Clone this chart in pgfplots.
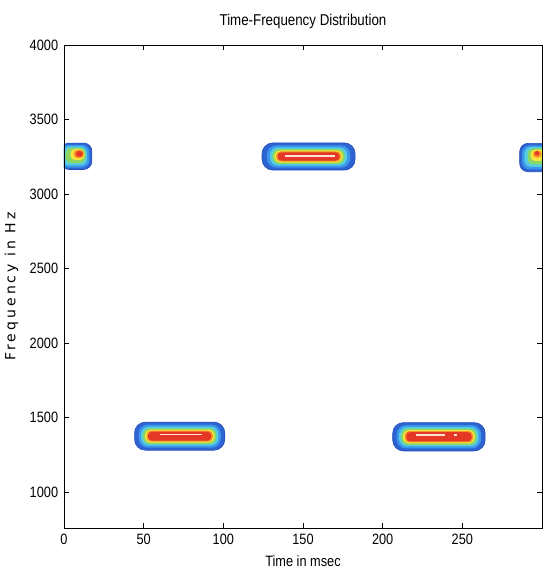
\documentclass[border=0pt]{standalone}
\usepackage{fontspec}
\setmainfont{Liberation Sans}[FakeStretch=0.85]
\newfontfamily\ylabfont{DejaVu Sans}[LetterSpace=22]
\usepackage{pgfplots}
\pgfplotsset{compat=1.18}
\definecolor{jdblue}{RGB}{35,75,190}
\definecolor{jblue}{RGB}{45,100,210}
\definecolor{jlblue}{RGB}{60,150,235}
\definecolor{jcyan}{RGB}{85,205,225}
\definecolor{jgreen}{RGB}{140,215,100}
\definecolor{jyellow}{RGB}{245,230,60}
\definecolor{jorange}{RGB}{245,145,40}
\definecolor{jred}{RGB}{228,55,38}
\definecolor{jwhite}{RGB}{255,225,215}
\begin{document}
\begin{tikzpicture}
\useasboundingbox (-38.4pt,-30.6pt) rectangle (290.4pt,316.8pt);
\begin{axis}[
  at={(0,0)}, anchor=south west,
  scale only axis, width=286.8pt, height=289.8pt,
  xmin=0, xmax=300, ymin=760, ymax=4000,
  xtick={0,50,100,150,200,250},
  ytick={1000,1500,2000,2500,3000,3500,4000},
  scaled ticks=false,
  /pgf/number format/1000 sep={},
  /pgf/number format/assume math mode=true,
  tick align=inside, major tick length=3pt,
  tick style={black, line width=0.4pt},
  axis line style={black, line width=0.5pt},
  axis on top,
  ticklabel style={font=\fontsize{9}{10}\selectfont},
  title={Time-Frequency Distribution},
  title style={font=\fontsize{9.4}{10}\selectfont},
  xlabel={Time in msec},
  xlabel style={font=\fontsize{9}{10}\selectfont},
  ylabel={Frequency in Hz},
  ylabel style={font=\ylabfont\fontsize{8.4}{9}\selectfont},
  l0/.style={fill=jblue, draw=jdblue, line width=0.4pt, rounded corners=6.5pt},
  l1/.style={fill=jlblue, draw=none, rounded corners=5.5pt},
  l2/.style={fill=jcyan, draw=none, rounded corners=4.6pt},
  l3/.style={fill=jgreen, draw=none, rounded corners=4pt},
  l4/.style={fill=jyellow, draw=none, rounded corners=3.3pt},
  l5/.style={fill=jorange, draw=none, rounded corners=2.7pt},
  l6/.style={fill=jred, draw=none, rounded corners=2.2pt},
]
% ---- bottom-left burst (1376 Hz)
\addplot[l0] coordinates {(72.6,1282) (100.9,1282) (100.9,1470) (44.3,1470) (44.3,1282) (72.6,1282)};
\addplot[l1] coordinates {(72.6,1299) (98.4,1299) (98.4,1453) (46.8,1453) (46.8,1299) (72.6,1299)};
\addplot[l2] coordinates {(72.6,1312) (96.9,1312) (96.9,1440) (48.3,1440) (48.3,1312) (72.6,1312)};
\addplot[l3] coordinates {(72.6,1323) (95.6,1323) (95.6,1429) (49.6,1429) (49.6,1323) (72.6,1323)};
\addplot[l4] coordinates {(72.6,1332) (94.4,1332) (94.4,1420) (50.8,1420) (50.8,1332) (72.6,1332)};
\addplot[l5] coordinates {(72.6,1339) (93.4,1339) (93.4,1413) (51.8,1413) (51.8,1339) (72.6,1339)};
\addplot[l6] coordinates {(72.6,1346) (92.4,1346) (92.4,1406) (52.8,1406) (52.8,1346) (72.6,1346)};
\addplot[jwhite, line width=0.8pt] coordinates {(60,1385) (86.5,1385)};
% ---- bottom-right burst
\addplot[l0] coordinates {(235.3,1277) (264.3,1277) (264.3,1467) (206.3,1467) (206.3,1277) (235.3,1277)};
\addplot[l1] coordinates {(235.3,1294) (261.8,1294) (261.8,1450) (208.8,1450) (208.8,1294) (235.3,1294)};
\addplot[l2] coordinates {(235.3,1307) (260.3,1307) (260.3,1437) (210.3,1437) (210.3,1307) (235.3,1307)};
\addplot[l3] coordinates {(235.3,1318) (259.0,1318) (259.0,1426) (211.6,1426) (211.6,1318) (235.3,1318)};
\addplot[l4] coordinates {(235.3,1327) (257.8,1327) (257.8,1417) (212.8,1417) (212.8,1327) (235.3,1327)};
\addplot[l5] coordinates {(235.3,1334) (256.8,1334) (256.8,1410) (213.8,1410) (213.8,1334) (235.3,1334)};
\addplot[l6] coordinates {(235.3,1341) (255.8,1341) (255.8,1403) (214.8,1403) (214.8,1341) (235.3,1341)};
\addplot[jwhite, line width=0.8pt] coordinates {(221,1384) (239,1384)};
\addplot[jwhite, line width=0.8pt] coordinates {(244.5,1384) (246.5,1384)};
% ---- top-middle burst (3252 Hz)
\addplot[l0] coordinates {(153.5,3161) (182.7,3161) (182.7,3343) (124.3,3343) (124.3,3161) (153.5,3161)};
\addplot[l1] coordinates {(153.5,3178) (179.7,3178) (179.7,3326) (127.3,3326) (127.3,3178) (153.5,3178)};
\addplot[l2] coordinates {(153.5,3191) (177.7,3191) (177.7,3313) (129.3,3313) (129.3,3191) (153.5,3191)};
\addplot[l3] coordinates {(153.5,3202) (176.2,3202) (176.2,3302) (130.8,3302) (130.8,3202) (153.5,3202)};
\addplot[l4] coordinates {(153.5,3211) (174.9,3211) (174.9,3293) (132.1,3293) (132.1,3211) (153.5,3211)};
\addplot[l5] coordinates {(153.5,3218) (173.9,3218) (173.9,3286) (133.1,3286) (133.1,3218) (153.5,3218)};
\addplot[l6] coordinates {(153.5,3225) (172.9,3225) (172.9,3279) (134.1,3279) (134.1,3225) (153.5,3225)};
\addplot[jwhite, line width=0.8pt] coordinates {(139,3256) (170,3256)};
% ---- left-edge burst
\addplot[l0, rounded corners=5pt] coordinates {(8,3165) (17.5,3165) (17.5,3342) (-2,3342) (-2,3165) (8,3165)};
\addplot[l1, rounded corners=4.5pt] coordinates {(8,3178) (16,3178) (16,3330) (-2,3330) (-2,3178) (8,3178)};
\addplot[l2, rounded corners=4pt] coordinates {(7,3192) (14.5,3192) (14.5,3320) (-1,3320) (-1,3192) (7,3192)};
\addplot[l3, rounded corners=3.5pt] coordinates {(7,3208) (13.5,3208) (13.5,3310) (1,3310) (1,3208) (7,3208)};
\addplot[l4, rounded corners=3pt] coordinates {(8.5,3228) (13,3228) (13,3302) (4,3302) (4,3228) (8.5,3228)};
\addplot[l5, rounded corners=2.2pt] coordinates {(9.2,3242) (12.5,3242) (12.5,3296) (6,3296) (6,3242) (9.2,3242)};
\addplot[l6, rounded corners=1.5pt] coordinates {(9.6,3252) (11.8,3252) (11.8,3288) (7.5,3288) (7.5,3252) (9.6,3252)};
% ---- right-edge burst
\addplot[l0, rounded corners=5pt] coordinates {(298,3150) (310,3150) (310,3340) (286,3340) (286,3150) (298,3150)};
\addplot[l1, rounded corners=4.5pt] coordinates {(298,3165) (310,3165) (310,3326) (287.5,3326) (287.5,3165) (298,3165)};
\addplot[l2, rounded corners=4pt] coordinates {(298,3182) (309,3182) (309,3316) (289,3316) (289,3182) (298,3182)};
\addplot[l3, rounded corners=3.5pt] coordinates {(298,3200) (306,3200) (306,3306) (291,3306) (291,3200) (298,3200)};
\addplot[l4, rounded corners=3pt] coordinates {(297.4,3222) (302,3222) (302,3298) (292.8,3298) (292.8,3222) (297.4,3222)};
\addplot[l5, rounded corners=2.2pt] coordinates {(297,3244) (299.8,3244) (299.8,3292) (294.3,3292) (294.3,3244) (297,3244)};
\addplot[l6, rounded corners=1.2pt] coordinates {(296.9,3258) (298.3,3258) (298.3,3288) (295.5,3288) (295.5,3258) (296.9,3258)};
\end{axis}
\end{tikzpicture}
\end{document}
